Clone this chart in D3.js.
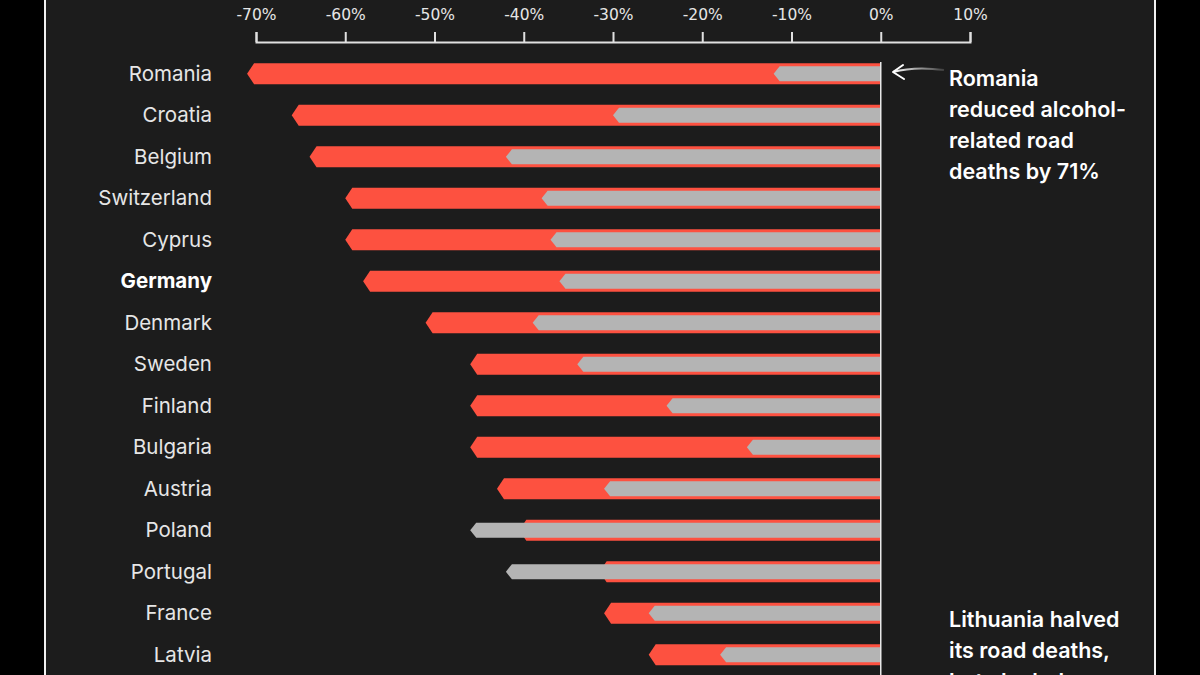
<!doctype html>
<html lang="en">
<head>
  <meta charset="utf-8">
  <title>Alcohol-related road deaths</title>
  <script src="https://cdn.jsdelivr.net/npm/d3@7"></script>
  <style>
    html, body { margin: 0; padding: 0; background: #000; }
    svg { display: block; }
  </style>
</head>
<body>
  <div id="chart"></div>
  <script>
    const RED = "#fd5140";
    const GREY = "#b4b4b4";
    const PANEL = "#1c1c1c";
    const TEXT = "#e6e6e6";

    const w = 1200;
    const h = 675;

    // countries top to bottom
    const countries = ["Romania", "Croatia", "Belgium", "Switzerland", "Cyprus", "Germany",
      "Denmark", "Sweden", "Finland", "Bulgaria", "Austria", "Poland", "Portugal", "France", "Latvia"];
    // change in alcohol-related road deaths (%)
    const alcoholChange = [-71, -66, -64, -60, -60, -58, -51, -46, -46, -46, -43, -40.5, -31.5, -31, -26];
    // change in all road deaths (%)
    const roadChange = [-12, -30, -42, -38, -37, -36, -39, -34, -24, -15, -31, -46, -42, -26, -18];
    const ticks = [-70, -60, -50, -40, -30, -20, -10, 0, 10];
    const highlighted = "Germany";

    const svg = d3.select("#chart").append("svg")
      .attr("width", w)
      .attr("height", h);

    // panel with white side borders
    svg.append("rect")
      .attr("x", 46).attr("y", 0)
      .attr("width", 1108).attr("height", h)
      .style("fill", PANEL);
    [45, 1155].forEach(x => {
      svg.append("line")
        .attr("x1", x).attr("x2", x)
        .attr("y1", 0).attr("y2", h)
        .style("stroke", "#f2f2f2")
        .style("stroke-width", 2);
    });

    const xScale = d3.scaleLinear()
      .domain([-70, 10])
      .range([256, 970]);

    const yScale = d3.scaleBand()
      .domain(countries)
      .range([53, 53 + countries.length * 41.5]);

    const xAxis = d3.axisTop(xScale)
      .tickValues(ticks)
      .tickSize(10)
      .tickSizeOuter(10)
      .tickPadding(12)
      .tickFormat(d => d + "%");

    const axisG = svg.append("g")
      .attr("transform", "translate(0, 42)")
      .call(xAxis);
    axisG.selectAll("path, line")
      .style("stroke", "#e0e0e0")
      .style("stroke-width", 2);
    axisG.selectAll("text")
      .style("fill", TEXT)
      .style("font-family", "DejaVu Sans, sans-serif")
      .style("font-size", "15.5px");

    // bar with a pointed left end
    function arrowBar(value, cy, height, tip) {
      const x0 = xScale(0);
      const xv = xScale(value);
      const y0 = cy - height / 2;
      const y1 = cy + height / 2;
      return `M${x0},${y0} L${xv + tip},${y0} L${xv},${cy} L${xv + tip},${y1} L${x0},${y1} Z`;
    }

    const rows = countries.map((name, i) => ({
      name,
      alcohol: alcoholChange[i],
      road: roadChange[i]
    }));

    const rowG = svg.append("g")
      .selectAll("g")
      .data(rows)
      .join("g");

    rowG.append("path")
      .attr("d", d => arrowBar(d.alcohol, yScale(d.name) + yScale.bandwidth() / 2, 21, 7))
      .style("fill", RED);

    rowG.append("path")
      .attr("d", d => arrowBar(d.road, yScale(d.name) + yScale.bandwidth() / 2, 15, 6))
      .style("fill", GREY);

    rowG.append("text")
      .attr("x", 212)
      .attr("y", d => yScale(d.name) + yScale.bandwidth() / 2)
      .attr("dy", "0.35em")
      .style("text-anchor", "end")
      .style("font-family", "Inter, sans-serif")
      .style("font-size", "20.5px")
      .style("font-weight", d => d.name === highlighted ? 700 : 400)
      .style("fill", d => d.name === highlighted ? "#ffffff" : TEXT)
      .text(d => d.name);

    // zero line
    svg.append("line")
      .attr("x1", xScale(0)).attr("x2", xScale(0))
      .attr("y1", 62).attr("y2", h)
      .style("stroke", "#e8e8e8")
      .style("stroke-width", 1.5);

    // annotations
    function addNote(x, y, lines) {
      const t = svg.append("text")
        .attr("x", x)
        .attr("y", y)
        .style("font-family", "Inter, sans-serif")
        .style("font-size", "21.5px")
        .style("font-weight", 600)
        .style("fill", "#ffffff");
      lines.forEach((line, i) => {
        t.append("tspan")
          .attr("x", x)
          .attr("dy", i === 0 ? 0 : 31)
          .text(line);
      });
    }

    addNote(949, 86, ["Romania", "reduced alcohol-", "related road", "deaths by 71%"]);
    addNote(949, 627, ["Lithuania halved", "its road deaths,", "but alcohol-"]);

    const grad = svg.append("defs").append("linearGradient")
      .attr("id", "fade")
      .attr("x1", "0%").attr("x2", "100%");
    grad.append("stop").attr("offset", "0%").attr("stop-color", "#fff").attr("stop-opacity", 1);
    grad.append("stop").attr("offset", "100%").attr("stop-color", "#fff").attr("stop-opacity", 0.15);

    svg.append("path")
      .attr("d", "M893,72 Q915,66 944,70")
      .style("fill", "none")
      .style("stroke", "url(#fade)")
      .style("stroke-width", 2);
    svg.append("path")
      .attr("d", "M903,65 L893,72 L904,79")
      .style("fill", "none")
      .style("stroke", "#fff")
      .style("stroke-width", 2)
      .style("stroke-linecap", "round")
      .style("stroke-linejoin", "round");
  </script>
</body>
</html>
